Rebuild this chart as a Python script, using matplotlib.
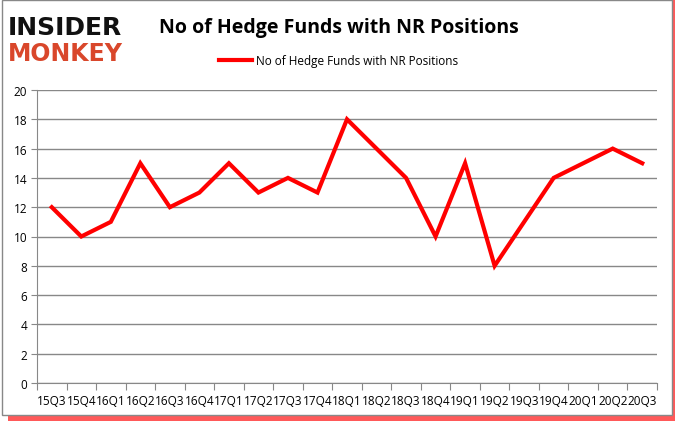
import matplotlib
matplotlib.use("Agg")
import matplotlib.pyplot as plt
from matplotlib.patches import Rectangle

quarters = ["15Q3", "15Q4", "16Q1", "16Q2", "16Q3", "16Q4", "17Q1", "17Q2", "17Q3", "17Q4",
            "18Q1", "18Q2", "18Q3", "18Q4", "19Q1", "19Q2", "19Q3", "19Q4", "20Q1", "20Q2", "20Q3"]
funds = [12, 10, 11, 15, 12, 13, 15, 13, 14, 13, 18, 16, 14, 10, 15, 8, 11, 14, 15, 16, 15]
yticks = list(range(0, 21, 2))

plt.rcParams['font.family'] = ['Open Sans', 'DejaVu Sans']

fig = plt.figure(figsize=(6.77, 4.31), dpi=100)
fig.patch.set_facecolor("white")

# frame with red shadow
fig.patches.append(Rectangle((0.012, 0.022), 0.985, 0.975, transform=fig.transFigure,
                             facecolor="#ff3030", edgecolor="none", alpha=0.8, zorder=-2))
fig.patches.append(Rectangle((0.003, 0.035), 0.99, 0.963, transform=fig.transFigure,
                             facecolor="white", edgecolor="#888888", linewidth=1, zorder=-1))

ax = fig.add_axes([37/677, 47/431, 620/677, 293/431])
x = list(range(len(quarters)))
ax.plot(x, funds, color="#ff0000", linewidth=3, solid_joinstyle="miter",
        label="No of Hedge Funds with NR Positions")

ax.set_xlim(-0.5, len(quarters) - 0.5)
ax.set_ylim(0, 20)
ax.set_yticks(yticks)
ax.set_xticks([i - 0.5 for i in range(len(quarters) + 1)])
ax.set_xticklabels([])
ax.set_xticks(x, minor=True)
ax.set_xticklabels(quarters, minor=True, fontsize=8.5)
ax.tick_params(axis="x", which="minor", length=0, pad=8)
ax.tick_params(axis="x", which="major", length=5, color="#888888", direction="out")
ax.tick_params(axis="y", length=4, color="#888888", labelsize=8.5, pad=3)
ax.grid(axis="y", color="#888888", linewidth=1)
ax.set_axisbelow(True)
for s in ["top", "right"]:
    ax.spines[s].set_visible(False)
ax.spines["left"].set_color("#888888")
ax.spines["bottom"].set_color("#888888")

fig.text(0.5, 0.935, "No of Hedge Funds with NR Positions", ha="center", va="center",
         fontsize=14, fontweight="bold", color="black")
fig.legend(loc="center", bbox_to_anchor=(0.5, 0.858), frameon=False, fontsize=8.5,
           handlelength=2.8, handletextpad=0.3)

fig.text(0.012, 0.935, "INSIDER", fontsize=18, fontweight="bold", color="#111111",
         ha="left", va="center", family="DejaVu Sans")
fig.text(0.012, 0.875, "MONKEY", fontsize=17, fontweight="bold", color="#d9472b",
         ha="left", va="center", family="DejaVu Sans")

fig.savefig("out.png", dpi=100)
